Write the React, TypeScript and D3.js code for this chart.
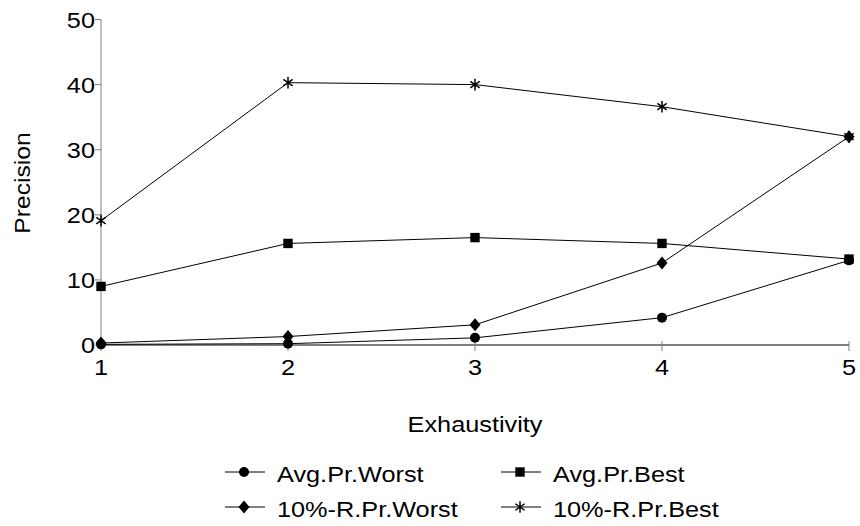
import React, { useRef, useEffect } from "react";
import * as d3 from "d3";

const exhaustivity = [1, 2, 3, 4, 5];
const avgPrWorst = [0.1, 0.2, 1.1, 4.2, 13.0];
const avgPrBest = [9.0, 15.6, 16.5, 15.6, 13.2];
const rPrWorst = [0.3, 1.3, 3.1, 12.6, 32.0];
const rPrBest = [19.1, 40.3, 40.0, 36.6, 32.0];
const yTicks = [0, 10, 20, 30, 40, 50];
const seriesNames = ["Avg.Pr.Worst", "Avg.Pr.Best", "10%-R.Pr.Worst", "10%-R.Pr.Best"];
const seriesMarkers = ["circle", "square", "diamond", "star"];

const FONT = "'Liberation Sans', Arial, sans-serif";

const drawMarker = (g, type, cx, cy) => {
  if (type === "circle") {
    g.append("circle").attr("cx", cx).attr("cy", cy).attr("r", 5).attr("fill", "#000");
  } else if (type === "square") {
    g.append("rect").attr("x", cx - 4.7).attr("y", cy - 4.7).attr("width", 9.4).attr("height", 9.4).attr("fill", "#000");
  } else if (type === "diamond") {
    g.append("path")
      .attr("d", `M${cx},${cy - 6.5}L${cx + 5.5},${cy}L${cx},${cy + 6.5}L${cx - 5.5},${cy}Z`)
      .attr("fill", "#000");
  } else {
    const r = 5.8;
    const d = r * 0.8;
    g.append("path")
      .attr("d", `M${cx},${cy - r}V${cy + r}M${cx - d},${cy - d * 0.7}L${cx + d},${cy + d * 0.7}M${cx - d},${cy + d * 0.7}L${cx + d},${cy - d * 0.7}`)
      .attr("stroke", "#000")
      .attr("stroke-width", 1.5)
      .attr("fill", "none");
  }
};

const App = () => {
  const svgRef = useRef(null);

  useEffect(() => {
    const svg = d3.select(svgRef.current);
    svg.selectAll("*").remove();
    const width = 860;
    const height = 526;
    svg.attr("width", width).attr("height", height);

    const x = d3.scaleLinear().domain([1, 5]).range([101, 849]);
    const y = d3.scaleLinear().domain([0, 50]).range([345, 19.5]);

    const label = (txt, tx, ty, anchor, size, sx, rot = 0) =>
      svg
        .append("text")
        .attr("transform", `translate(${tx},${ty}) rotate(${rot}) scale(${sx},1)`)
        .attr("text-anchor", anchor)
        .attr("font-family", FONT)
        .attr("font-size", size)
        .attr("fill", "#000")
        .text(txt);

    // y axis
    svg.append("line")
      .attr("x1", x(1)).attr("x2", x(1))
      .attr("y1", y(0)).attr("y2", y(50))
      .attr("stroke", "#808080").attr("stroke-width", 1);
    yTicks.forEach((t) => {
      svg.append("line")
        .attr("x1", x(1) - 6).attr("x2", x(1))
        .attr("y1", y(t)).attr("y2", y(t))
        .attr("stroke", "#808080");
      label(String(t), x(1) - 6, y(t) + 8, "end", 22, 1.15);
    });

    // x axis
    svg.append("line")
      .attr("x1", x(1)).attr("x2", x(5))
      .attr("y1", y(0)).attr("y2", y(0))
      .attr("stroke", "#000").attr("stroke-width", 1);
    exhaustivity.forEach((t) => {
      svg.append("line")
        .attr("x1", x(t)).attr("x2", x(t))
        .attr("y1", y(0) - 4).attr("y2", y(0) + 6)
        .attr("stroke", "#808080");
      label(String(t), x(t), 375, "middle", 22, 1.15);
    });

    label("Exhaustivity", 475, 432, "middle", 22, 1.15);
    label("Precision", 30, 183, "middle", 22, 1.12, -90);

    const series = [avgPrWorst, avgPrBest, rPrWorst, rPrBest];
    const line = d3.line().x((d, i) => x(exhaustivity[i])).y((d) => y(d));

    series.forEach((vals) => {
      svg.append("path")
        .attr("d", line(vals))
        .attr("fill", "none")
        .attr("stroke", "#000")
        .attr("stroke-width", 1);
    });
    const marks = svg.append("g");
    series.forEach((vals, si) => {
      vals.forEach((v, i) => drawMarker(marks, seriesMarkers[si], x(exhaustivity[i]), y(v)));
    });

    // legend
    const legX = [225, 501];
    const legY = [472, 507];
    seriesNames.forEach((name, i) => {
      const lx = legX[i % 2];
      const ly = legY[Math.floor(i / 2)];
      svg.append("line")
        .attr("x1", lx).attr("x2", lx + 40)
        .attr("y1", ly).attr("y2", ly)
        .attr("stroke", "#000");
      drawMarker(svg, seriesMarkers[i], lx + 19, ly);
      label(name, lx + 52, ly + 10, "start", 22, 1.15);
    });
  }, []);

  return (
    <svg
      ref={svgRef}
      style={{ position: "absolute", left: 0, top: 0, background: "#fff" }}
    ></svg>
  );
};

export default App;
